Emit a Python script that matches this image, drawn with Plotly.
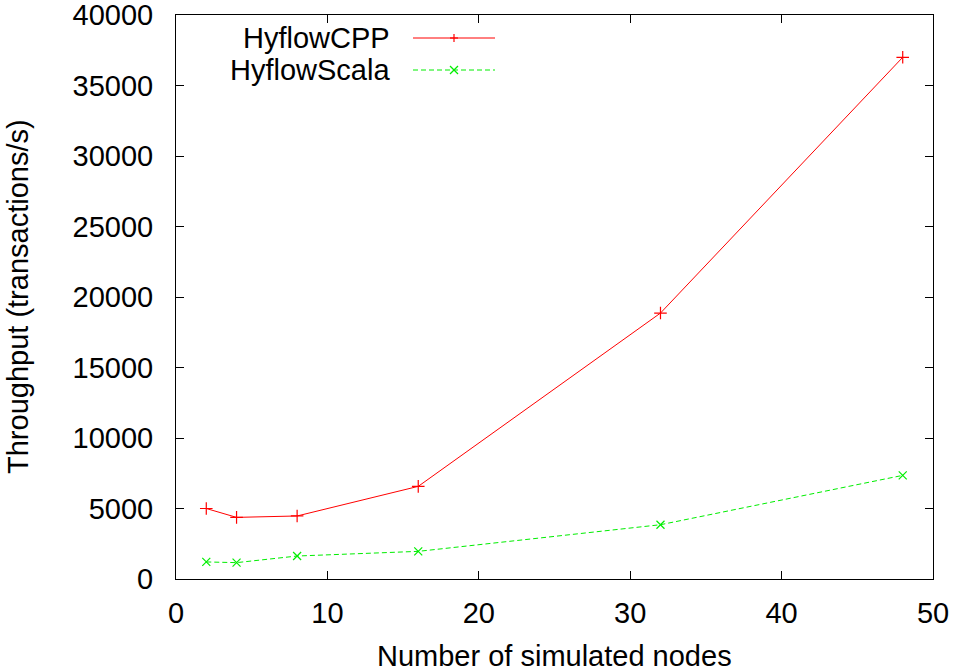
import plotly.graph_objects as go

nodes = [2, 4, 8, 16, 32, 48]
cpp = [5000, 4370, 4470, 6570, 18860, 37000]
scala = [1210, 1160, 1630, 1960, 3850, 7350]
series_names = ["HyflowCPP", "HyflowScala"]
x_ticks = [0, 10, 20, 30, 40, 50]
y_ticks = [0, 5000, 10000, 15000, 20000, 25000, 30000, 35000, 40000]

RED = "#ff0000"
GREEN = "#00ee00"
FONT = "Liberation Sans, Arial, sans-serif"
FS = 29

fig = go.Figure()
fig.add_trace(go.Scatter(
    x=nodes, y=cpp, name=series_names[0], mode="lines+markers",
    line=dict(color=RED, width=1),
    marker=dict(symbol="cross-thin", size=9, line=dict(color=RED, width=1.2)),
    showlegend=False, cliponaxis=False))
fig.add_trace(go.Scatter(
    x=nodes, y=scala, name=series_names[1], mode="lines+markers",
    line=dict(color=GREEN, width=1, dash="5px,3px"),
    marker=dict(symbol="x-thin", size=8, line=dict(color=GREEN, width=1.2)),
    showlegend=False, cliponaxis=False))

# plot area in pixels: left 176, right 933, top 15, bottom 579
L, R, T, B = 176, 933, 15, 579
W, H = R - L, B - T

def px(x):
    return (x - L) / W

def py(y):
    return (B - y) / H

shapes = []
annotations = []
legend_rows = [(series_names[0], 38, RED, "solid", "plus"),
               (series_names[1], 70, GREEN, "5px,3px", "x")]
for name, yy, col, dash, sym in legend_rows:
    annotations.append(dict(xref="paper", yref="paper", x=px(392), y=py(yy),
                            text=name, showarrow=False, xanchor="right",
                            yanchor="middle",
                            font=dict(family=FONT, size=FS, color="black")))
    shapes.append(dict(type="line", xref="paper", yref="paper",
                       x0=px(413), x1=px(495), y0=py(yy), y1=py(yy),
                       line=dict(color=col, width=1, dash=dash)))
    cx, cy, s = 454, yy, 4
    if sym == "plus":
        segs = [((cx - s, cy), (cx + s, cy)), ((cx, cy - s), (cx, cy + s))]
    else:
        segs = [((cx - s, cy - s), (cx + s, cy + s)), ((cx - s, cy + s), (cx + s, cy - s))]
    for (a, b) in segs:
        shapes.append(dict(type="line", xref="paper", yref="paper",
                           x0=px(a[0]), y0=py(a[1]), x1=px(b[0]), y1=py(b[1]),
                           line=dict(color=col, width=1.2)))

# axis titles
annotations.append(dict(xref="paper", yref="paper", x=0.5, y=py(656),
                        text="Number of simulated nodes", showarrow=False,
                        xanchor="center", yanchor="middle",
                        font=dict(family=FONT, size=FS, color="black")))
annotations.append(dict(xref="paper", yref="paper", x=px(18), y=0.5,
                        text="Throughput (transactions/s)", showarrow=False,
                        textangle=-90, xanchor="center", yanchor="middle",
                        font=dict(family=FONT, size=FS, color="black")))

axis_common = dict(
    showgrid=False, zeroline=False, showline=True, linecolor="black",
    linewidth=1, mirror="allticks", ticks="inside", ticklen=8,
    tickcolor="black", tickwidth=1, automargin=False,
    ticklabeloverflow="allow",
    tickfont=dict(family=FONT, size=FS, color="black"),
)

fig.update_layout(
    width=959, height=671,
    margin=dict(l=L, r=959 - R, t=T, b=671 - B),
    paper_bgcolor="white", plot_bgcolor="white",
    font=dict(family=FONT, size=FS, color="black"),
    xaxis=dict(range=[0, 50], tickvals=x_ticks,
               ticktext=[str(v) for v in x_ticks],
               ticklabelstandoff=8,
               **axis_common),
    yaxis=dict(range=[0, 40000], tickvals=y_ticks,
               ticktext=[str(v) for v in y_ticks],
               ticklabelstandoff=16,
               **axis_common),
    shapes=shapes, annotations=annotations,
)

fig.write_html("out.html", config={"displayModeBar": False},
               post_script=["document.body.style.margin='0';"
                            "document.body.style.overflow='hidden';"])
